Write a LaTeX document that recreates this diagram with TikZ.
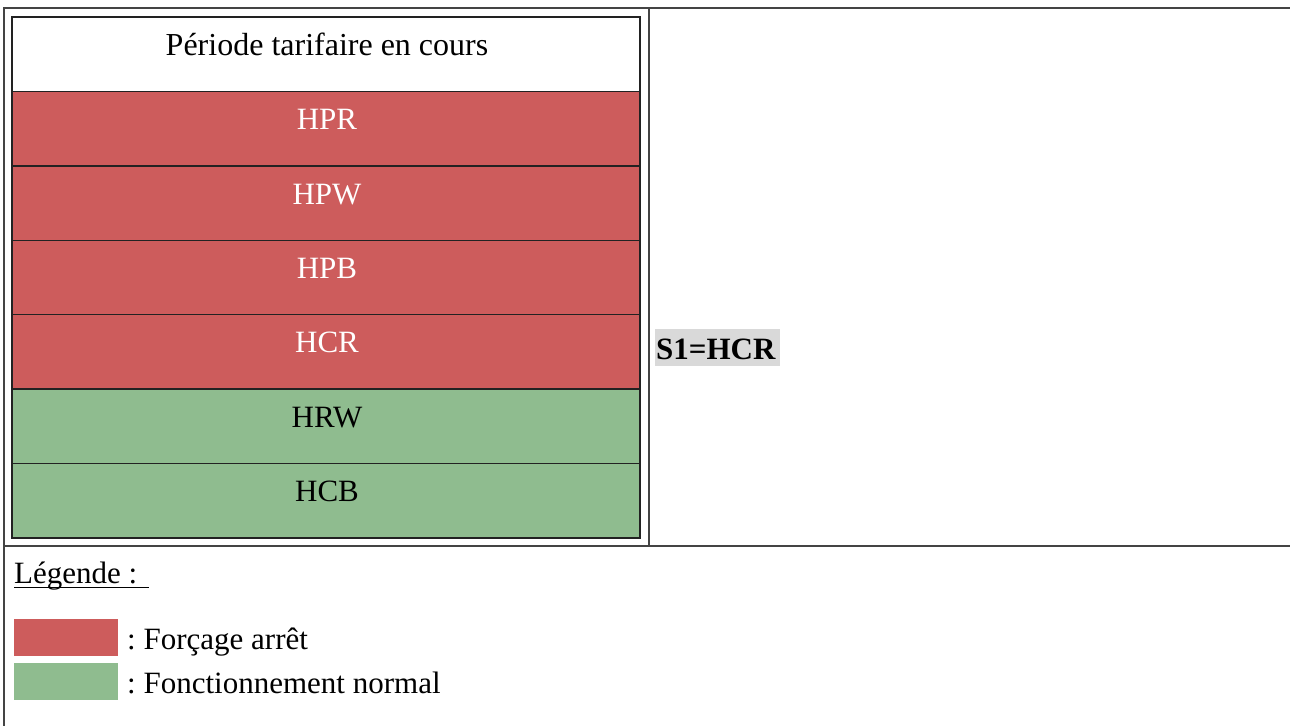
\documentclass[tikz,border=0pt]{standalone}
\usepackage{fontspec}
\setmainfont{Liberation Serif}
\frenchspacing
\definecolor{stopred}{HTML}{CD5C5C}
\definecolor{okgreen}{HTML}{8FBC8F}
\definecolor{hlgray}{HTML}{D9D9D9}
\definecolor{outerline}{HTML}{444444}
\definecolor{innerline}{HTML}{222222}
\begin{document}
\begin{tikzpicture}[x=1pt,y=-1pt,
  txt/.style={font=\fontsize{31}{37}\selectfont\frenchspacing, inner sep=0pt, anchor=base},
  cellbox/.style={draw=innerline, line width=1.5pt},
  outer/.style={draw=outerline, line width=1.3pt}]
\useasboundingbox (0,0) rectangle (1290,726);
% outer table
\draw[outer] (1290,8) -- (4,8) -- (4,726);
\draw[outer] (649,8) -- (649,546);
\draw[outer] (4,546) -- (1290,546);
% inner column
\draw[cellbox, fill=white] (12,17) rectangle (640,91.4);
\draw[cellbox, fill=stopred] (12,91.4) rectangle (640,165.9);
\draw[cellbox, fill=stopred] (12,165.9) rectangle (640,240.3);
\draw[cellbox, fill=stopred] (12,240.3) rectangle (640,314.7);
\draw[cellbox, fill=stopred] (12,314.7) rectangle (640,389.1);
\draw[cellbox, fill=okgreen] (12,389.1) rectangle (640,463.6);
\draw[cellbox, fill=okgreen] (12,463.6) rectangle (640,538);
\node[txt, font=\fontsize{32}{38}\selectfont] (hdr) at (327,55) {Période tarifaire en cours};
\node[txt, text=white] (hpr) at (327,129.5) {HPR};
\node[txt, text=white] (hpw) at (327,204) {HPW};
\node[txt, text=white] (hpb) at (327,278.3) {HPB};
\node[txt, text=white] (hcr) at (327,352.7) {HCR};
\node[txt] (hrw) at (327,427.1) {HRW};
\node[txt] (hcb) at (327,501.6) {HCB};
% S1 label
\fill[hlgray] (655,329) rectangle (780,366);
\node[txt, anchor=base west, font=\fontsize{31}{37}\selectfont\bfseries] (s1) at (656,359) {S1=HCR};
% legend
\node[txt, anchor=base west] (leg) at (14,583) {Légende :};
\draw[line width=1.3pt] (14,587.5) -- (149,587.5);
\fill[stopred] (14,619) rectangle (118,656);
\fill[okgreen] (14,663) rectangle (118,700);
\node[txt, anchor=base west] (l1) at (127,649) {: Forçage arrêt};
\node[txt, anchor=base west] (l2) at (127,693) {: Fonctionnement normal};
\end{tikzpicture}
\end{document}
